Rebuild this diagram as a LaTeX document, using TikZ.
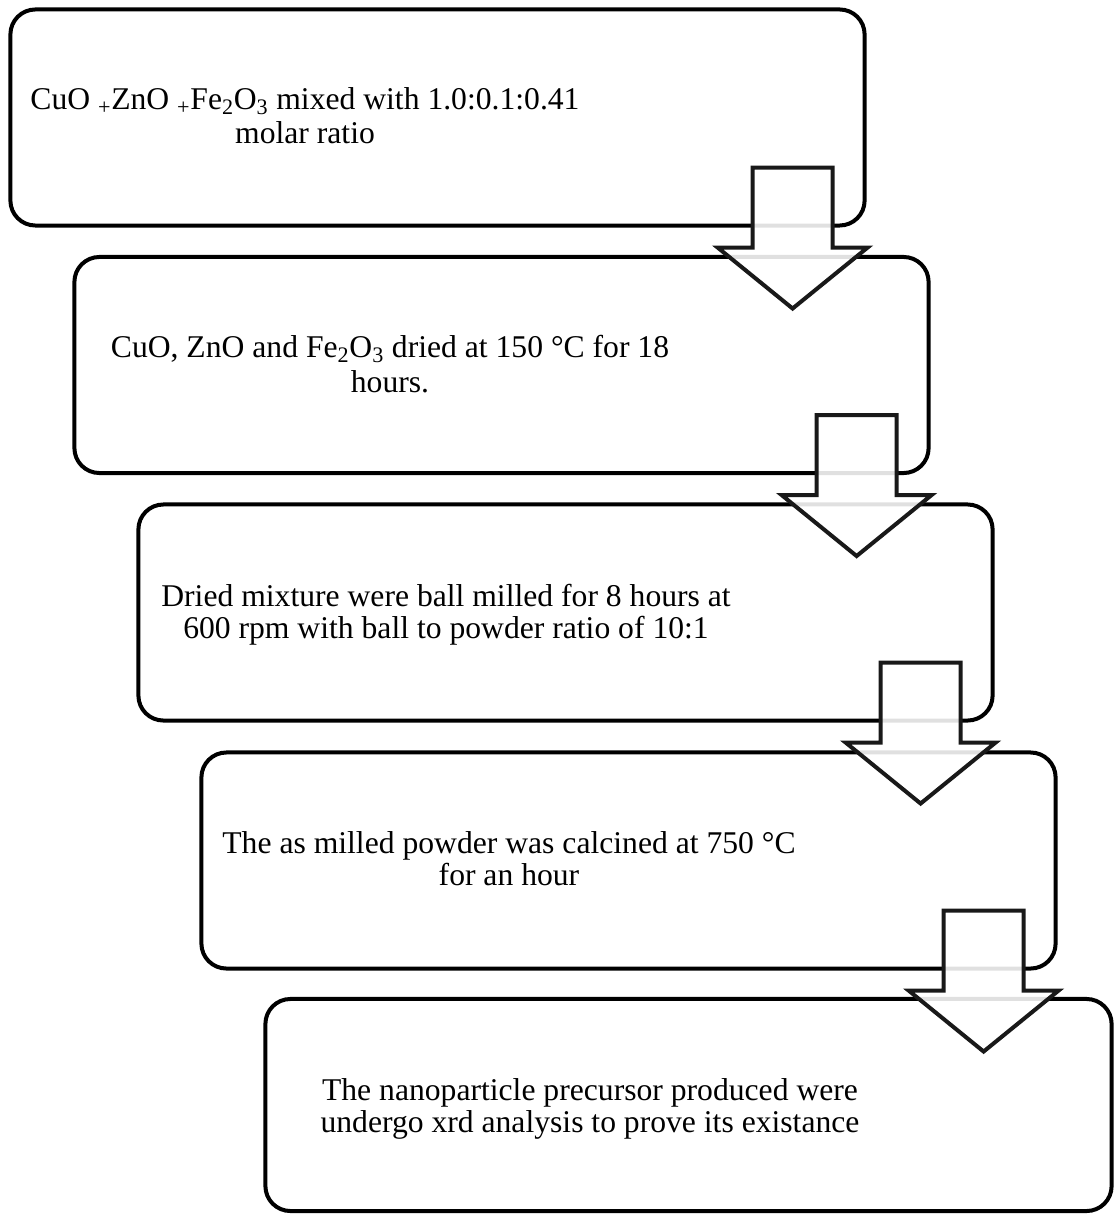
\documentclass[tikz,border=0pt]{standalone}
\usepackage{fontspec}
\setmainfont{Liberation Serif}
\begin{document}
\begin{tikzpicture}[
		x=0.025cm, y=-0.025cm,
		stepbox/.style={draw, line width=0.1cm, rounded corners=0.625cm, minimum width=21.35cm, minimum height=5.4cm, inner sep=0, outer sep=0},
		steptext/.style={align=center, anchor=base, inner sep=0, font=\fontsize{22.5pt}{22.4pt}\selectfont},
		subtext/.style={steptext, font=\fontsize{22.5pt}{24.2pt}\selectfont},
		blockarrow/.style={draw=black!90, line width=0.1cm, fill=white, fill opacity=0.88, line join=miter},
	]
	\useasboundingbox (0,0) rectangle (1115,1214);
	\node[stepbox] (box1) at (437.5,117.5) {};
	\node[stepbox] (box2) at (501.5,365) {};
	\node[stepbox] (box3) at (565.5,612.5) {};
	\node[stepbox] (box4) at (628.5,860.5) {};
	\node[stepbox, minimum width=21.15cm, minimum height=5.3cm] (box5) at (688.5,1105) {};
	\node[subtext] (text1) at (305,144) {CuO \textsubscript{+}ZnO \textsubscript{+}Fe\textsubscript{2}O\textsubscript{3} mixed with 1.0:0.1:0.41\\molar ratio};
	\node[subtext] (text2) at (390,392) {CuO, ZnO and Fe\textsubscript{2}O\textsubscript{3} dried at 150 °C for 18\\hours.};
	\node[steptext] (text3) at (446,638) {Dried mixture were ball milled for 8 hours at\\600 rpm with ball to powder ratio of 10:1};
	\node[steptext] (text4) at (509,885) {The as milled powder was calcined at 750 °C\\for an hour};
	\node[steptext] (text5) at (590,1132) {The nanoparticle precursor produced were\\undergo xrd analysis to prove its existance};
	\draw[blockarrow] ([shift={(-112,-58)}]box1.south east) -- ++(80,0) -- ++(0,80) -- ++(35,0) -- ++(-75,61) -- ++(-75,-61) -- ++(35,0) -- cycle;
	\draw[blockarrow] ([shift={(-112,-58)}]box2.south east) -- ++(80,0) -- ++(0,80) -- ++(35,0) -- ++(-75,61) -- ++(-75,-61) -- ++(35,0) -- cycle;
	\draw[blockarrow] ([shift={(-112,-58)}]box3.south east) -- ++(80,0) -- ++(0,80) -- ++(35,0) -- ++(-75,61) -- ++(-75,-61) -- ++(35,0) -- cycle;
	\draw[blockarrow] ([shift={(-112,-58)}]box4.south east) -- ++(80,0) -- ++(0,80) -- ++(35,0) -- ++(-75,61) -- ++(-75,-61) -- ++(35,0) -- cycle;
\end{tikzpicture}
\end{document}
